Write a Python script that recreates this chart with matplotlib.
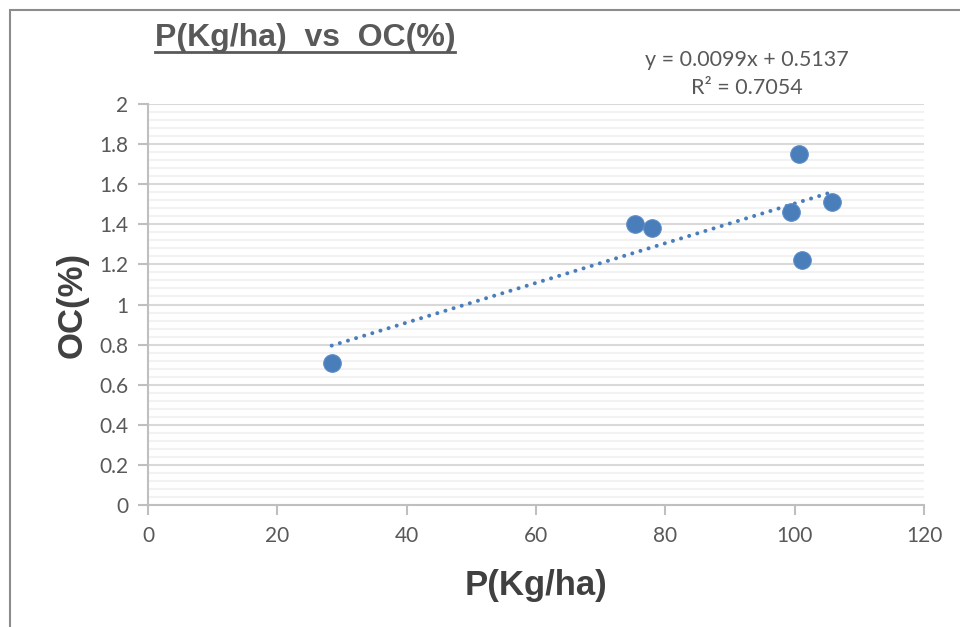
import matplotlib.pyplot as plt
from matplotlib.patches import Rectangle
from matplotlib.lines import Line2D
from matplotlib.ticker import MultipleLocator

# P (Kg/ha) against organic carbon (%)
p_kg_ha = [28.4, 75.3, 77.9, 99.4, 100.7, 101.1, 105.8]
oc_pct = [0.71, 1.40, 1.38, 1.46, 1.75, 1.22, 1.51]

# linear trendline as reported on the chart
slope = 0.0099
intercept = 0.5137
r_squared = 0.7054

blue = '#4a7ebb'
grey_txt = '#595959'

plt.rcParams['font.family'] = ['Lato', 'DejaVu Sans']

fig = plt.figure(figsize=(9.6, 6.27), dpi=100)
ax = fig.add_axes([0.1542, 0.1946, 0.8083, 0.6395])

# chart frame
fig.patches.append(Rectangle((10 / 960, -0.1), 1.2, 1 - 10 / 627 + 0.1,
                             transform=fig.transFigure, fill=False,
                             edgecolor='#8c8c8c', lw=1.5))

ax.scatter(p_kg_ha, oc_pct, s=160, color=blue, edgecolor='#5a8bc6',
           linewidth=0.8, zorder=3)

x0, x1 = min(p_kg_ha), max(p_kg_ha)
ax.plot([x0, x1], [slope * x0 + intercept, slope * x1 + intercept],
        color=blue, lw=2.9, linestyle=(0, (0.01, 2.1)),
        dash_capstyle='round', zorder=2)

ax.set_xlim(0, 120)
ax.set_ylim(0, 2)
ax.xaxis.set_major_locator(MultipleLocator(20))
ax.yaxis.set_minor_locator(MultipleLocator(0.04))
ax.set_yticks([0, 0.2, 0.4, 0.6, 0.8, 1, 1.2, 1.4, 1.6, 1.8, 2])
ax.set_yticklabels(['0', '0.2', '0.4', '0.6', '0.8', '1', '1.2', '1.4',
                    '1.6', '1.8', '2'])

ax.grid(axis='y', which='major', color='#d9d9d9', lw=1.5, zorder=0)
ax.grid(axis='y', which='minor', color='#f2f2f2', lw=1.5, zorder=0)
ax.set_axisbelow(True)

for s in ['top', 'right']:
    ax.spines[s].set_visible(False)
for s in ['left', 'bottom']:
    ax.spines[s].set_color('#bfbfbf')
    ax.spines[s].set_linewidth(1.5)

ax.tick_params(axis='both', which='major', color='#bfbfbf', width=1.5,
               length=7, labelsize=15, labelcolor=grey_txt)
ax.tick_params(axis='x', pad=8)
ax.tick_params(axis='y', pad=7)
ax.tick_params(which='minor', length=0)

ax.set_xlabel('P(Kg/ha)', fontsize=25, fontweight='bold', color='#404040',
              family='Liberation Sans', labelpad=17)
ax.set_ylabel('OC(%)', fontsize=25, fontweight='bold', color='#404040',
              family='Liberation Sans', labelpad=8)

# trendline equation
fig.text(747 / 960, 1 - 60 / 627, f'y = {slope}x + {intercept}',
         ha='center', va='center', fontsize=15.5, color=grey_txt)
fig.text(747 / 960, 1 - 88 / 627, f'R² = {r_squared}',
         ha='center', va='center', fontsize=15.5, color=grey_txt)

# underlined title
title = fig.text(305 / 960, 1 - 38 / 627, 'P(Kg/ha)  vs  OC(%)',
                 ha='center', va='center', fontsize=23, fontweight='bold',
                 color=grey_txt, family='Liberation Sans')
fig.canvas.draw()
bb = title.get_window_extent().transformed(fig.transFigure.inverted())
fig.lines.append(Line2D([bb.x0, bb.x1], [bb.y0 + 0.002, bb.y0 + 0.002],
                        transform=fig.transFigure, color=grey_txt, lw=2))

fig.savefig('out.png', dpi=100)
